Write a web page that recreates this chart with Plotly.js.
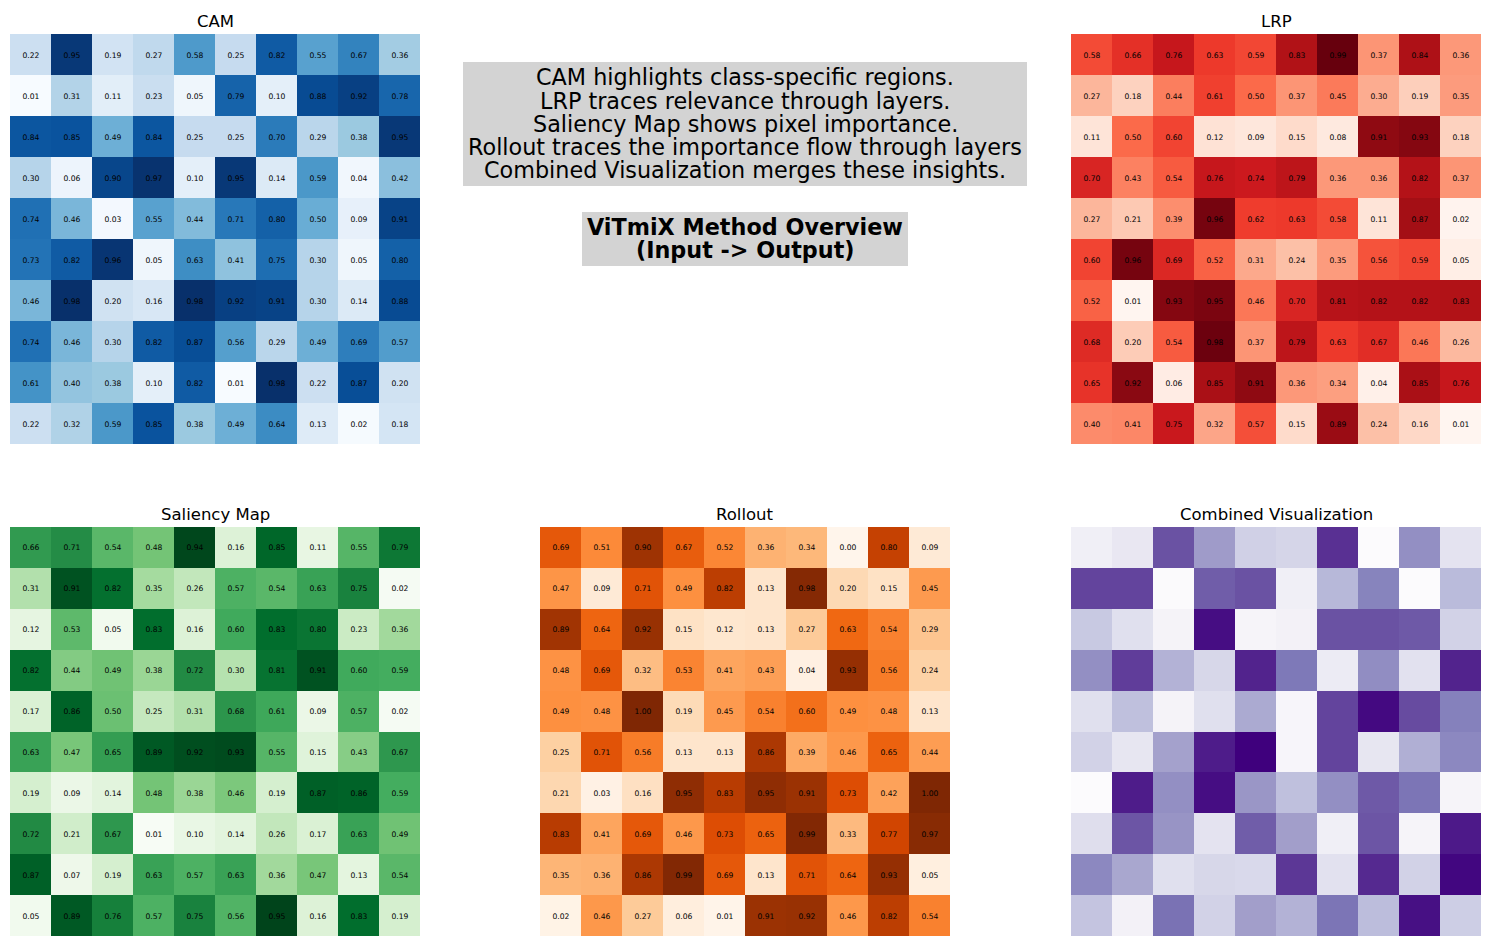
<!DOCTYPE html>
<html>
<head>
<meta charset="utf-8">
<script src="https://cdn.plot.ly/plotly-3.0.1.min.js"></script>
<style>html,body{margin:0;padding:0;background:#fff;}#chart{width:1489px;height:946px;}</style>
</head>
<body>
<div id="chart"></div>
<script>
const titles = ["CAM", "LRP", "Saliency Map", "Rollout", "Combined Visualization"];

const camValues = [
  [0.22,0.95,0.19,0.27,0.58,0.25,0.82,0.55,0.67,0.36],
  [0.01,0.31,0.11,0.23,0.05,0.79,0.10,0.88,0.92,0.78],
  [0.84,0.85,0.49,0.84,0.25,0.25,0.70,0.29,0.38,0.95],
  [0.30,0.06,0.90,0.97,0.10,0.95,0.14,0.59,0.04,0.42],
  [0.74,0.46,0.03,0.55,0.44,0.71,0.80,0.50,0.09,0.91],
  [0.73,0.82,0.96,0.05,0.63,0.41,0.75,0.30,0.05,0.80],
  [0.46,0.98,0.20,0.16,0.98,0.92,0.91,0.30,0.14,0.88],
  [0.74,0.46,0.30,0.82,0.87,0.56,0.29,0.49,0.69,0.57],
  [0.61,0.40,0.38,0.10,0.82,0.01,0.98,0.22,0.87,0.20],
  [0.22,0.32,0.59,0.85,0.38,0.49,0.64,0.13,0.02,0.18]
];

const lrpValues = [
  [0.58,0.66,0.76,0.63,0.59,0.83,0.99,0.37,0.84,0.36],
  [0.27,0.18,0.44,0.61,0.50,0.37,0.45,0.30,0.19,0.35],
  [0.11,0.50,0.60,0.12,0.09,0.15,0.08,0.91,0.93,0.18],
  [0.70,0.43,0.54,0.76,0.74,0.79,0.36,0.36,0.82,0.37],
  [0.27,0.21,0.39,0.96,0.62,0.63,0.58,0.11,0.87,0.02],
  [0.60,0.96,0.69,0.52,0.31,0.24,0.35,0.56,0.59,0.05],
  [0.52,0.01,0.93,0.95,0.46,0.70,0.81,0.82,0.82,0.83],
  [0.68,0.20,0.54,0.98,0.37,0.79,0.63,0.67,0.46,0.26],
  [0.65,0.92,0.06,0.85,0.91,0.36,0.34,0.04,0.85,0.76],
  [0.40,0.41,0.75,0.32,0.57,0.15,0.89,0.24,0.16,0.01]
];

const saliencyValues = [
  [0.66,0.71,0.54,0.48,0.94,0.16,0.85,0.11,0.55,0.79],
  [0.31,0.91,0.82,0.35,0.26,0.57,0.54,0.63,0.75,0.02],
  [0.12,0.53,0.05,0.83,0.16,0.60,0.83,0.80,0.23,0.36],
  [0.82,0.44,0.49,0.38,0.72,0.30,0.81,0.91,0.60,0.59],
  [0.17,0.86,0.50,0.25,0.31,0.68,0.61,0.09,0.57,0.02],
  [0.63,0.47,0.65,0.89,0.92,0.93,0.55,0.15,0.43,0.67],
  [0.19,0.09,0.14,0.48,0.38,0.46,0.19,0.87,0.86,0.59],
  [0.72,0.21,0.67,0.01,0.10,0.14,0.26,0.17,0.63,0.49],
  [0.87,0.07,0.19,0.63,0.57,0.63,0.36,0.47,0.13,0.54],
  [0.05,0.89,0.76,0.57,0.75,0.56,0.95,0.16,0.83,0.19]
];

const rolloutValues = [
  [0.69,0.51,0.90,0.67,0.52,0.36,0.34,0.00,0.80,0.09],
  [0.47,0.09,0.71,0.49,0.82,0.13,0.98,0.20,0.15,0.45],
  [0.89,0.64,0.92,0.15,0.12,0.13,0.27,0.63,0.54,0.29],
  [0.48,0.69,0.32,0.53,0.41,0.43,0.04,0.93,0.56,0.24],
  [0.49,0.48,1.00,0.19,0.45,0.54,0.60,0.49,0.48,0.13],
  [0.25,0.71,0.56,0.13,0.13,0.86,0.39,0.46,0.65,0.44],
  [0.21,0.03,0.16,0.95,0.83,0.95,0.91,0.73,0.42,1.00],
  [0.83,0.41,0.69,0.46,0.73,0.65,0.99,0.33,0.77,0.97],
  [0.35,0.36,0.86,0.99,0.69,0.13,0.71,0.64,0.93,0.05],
  [0.02,0.46,0.27,0.06,0.01,0.91,0.92,0.46,0.82,0.54]
];

const combinedValues = [
  [0.12,0.17,0.75,0.50,0.30,0.28,0.85,0.01,0.55,0.20],
  [0.79,0.79,0.02,0.72,0.75,0.12,0.40,0.60,0.01,0.39],
  [0.33,0.22,0.08,0.96,0.07,0.10,0.75,0.75,0.73,0.29],
  [0.55,0.81,0.42,0.27,0.89,0.64,0.15,0.56,0.21,0.89],
  [0.22,0.37,0.08,0.22,0.45,0.06,0.79,0.97,0.77,0.61],
  [0.29,0.18,0.48,0.91,1.00,0.06,0.79,0.18,0.43,0.58],
  [0.01,0.91,0.55,0.96,0.52,0.37,0.55,0.73,0.65,0.07],
  [0.23,0.74,0.53,0.20,0.72,0.49,0.12,0.74,0.07,0.92],
  [0.58,0.46,0.22,0.27,0.26,0.83,0.21,0.87,0.29,0.98],
  [0.35,0.10,0.66,0.29,0.49,0.42,0.65,0.38,0.95,0.31]
];

const infoLines = [
  "CAM highlights class-specific regions.",
  "LRP traces relevance through layers.",
  "Saliency Map shows pixel importance.",
  "Rollout traces the importance flow through layers",
  "Combined Visualization merges these insights."
];
const headerLines = ["ViTmiX Method Overview", "(Input -> Output)"];

function scale(cols){ return cols.map((c,i)=>[i/(cols.length-1), c]); }
const Blues = scale(["#f7fbff","#deebf7","#c6dbef","#9ecae1","#6baed6","#4292c6","#2171b5","#08519c","#08306b"]);
const Reds = scale(["#fff5f0","#fee0d2","#fcbba1","#fc9272","#fb6a4a","#ef3b2c","#cb181d","#a50f15","#67000d"]);
const Greens = scale(["#f7fcf5","#e5f5e0","#c7e9c0","#a1d99b","#74c476","#41ab5d","#238b45","#006d2c","#00441b"]);
const Oranges = scale(["#fff5eb","#fee6ce","#fdd0a2","#fdae6b","#fd8d3c","#f16913","#d94801","#a63603","#7f2704"]);
const Purples = scale(["#fcfbfd","#efedf5","#dadaeb","#bcbddc","#9e9ac8","#807dba","#6a51a3","#54278f","#3f007d"]);

const W = 1489, H = 946;
const px = v => v / W;
const py = v => 1 - v / H;

// panel boxes in pixels [left, right, top, bottom]
const panels = [
  {z: camValues, cs: Blues, box: [10, 420, 34, 444], text: true},
  {z: lrpValues, cs: Reds, box: [1071, 1481, 34, 444], text: true},
  {z: saliencyValues, cs: Greens, box: [10, 420, 527, 936], text: true},
  {z: rolloutValues, cs: Oranges, box: [540, 950, 527, 936], text: true},
  {z: combinedValues, cs: Purples, box: [1071, 1481, 527, 936], text: false}
];

const traces = [];
const layout = {
  width: W, height: H,
  margin: {l:0, r:0, t:0, b:0},
  paper_bgcolor: "#ffffff",
  plot_bgcolor: "#ffffff",
  font: {family: "DejaVu Sans", color: "#000000"},
  showlegend: false,
  annotations: [],
  shapes: []
};

panels.forEach((p, i) => {
  const n = i + 1;
  const xa = n === 1 ? "x" : "x" + n;
  const ya = n === 1 ? "y" : "y" + n;
  const t = {
    type: "heatmap",
    z: p.z,
    colorscale: p.cs,
    showscale: false,
    xaxis: xa, yaxis: ya,
    xgap: 0, ygap: 0,
    hoverinfo: "z"
  };
  if (p.text) {
    t.texttemplate = "%{z:.2f}";
    t.textfont = {family: "DejaVu Sans", size: 7.6, color: "#000000"};
  }
  traces.push(t);
  const axCommon = {showgrid:false, zeroline:false, showticklabels:false, ticks:"", showline:false};
  layout["xaxis" + (n===1?"":n)] = Object.assign({domain:[px(p.box[0]), px(p.box[1])], anchor: ya, range:[-0.5, 9.5]}, axCommon);
  layout["yaxis" + (n===1?"":n)] = Object.assign({domain:[py(p.box[3]), py(p.box[2])], anchor: xa, range:[9.5, -0.5]}, axCommon);
  layout.annotations.push({
    xref:"paper", yref:"paper",
    x: px((p.box[0]+p.box[1])/2), y: py(p.box[2]-13),
    xanchor:"center", yanchor:"middle",
    text: titles[i], showarrow:false,
    font:{family:"DejaVu Sans", size:16.5, color:"#000000"}
  });
});

// info text box
layout.shapes.push({type:"rect", xref:"paper", yref:"paper", x0:px(463), x1:px(1027), y0:py(186), y1:py(62), fillcolor:"#d3d3d3", line:{width:0}, layer:"below"});
layout.shapes.push({type:"rect", xref:"paper", yref:"paper", x0:px(582), x1:px(908), y0:py(266), y1:py(212), fillcolor:"#d3d3d3", line:{width:0}, layer:"below"});
const infoY = [77, 100.5, 124, 147, 170];
infoLines.forEach((s, k) => {
  layout.annotations.push({xref:"paper", yref:"paper", x:px(745), y:py(infoY[k]), xanchor:"center", yanchor:"middle",
    text:s, showarrow:false, font:{family:"DejaVu Sans", size:22.3, color:"#000000"}});
});
const headY = [227, 250];
headerLines.forEach((s, k) => {
  layout.annotations.push({xref:"paper", yref:"paper", x:px(745), y:py(headY[k]), xanchor:"center", yanchor:"middle",
    text:"<b>"+s+"</b>", showarrow:false, font:{family:"DejaVu Sans", size:22.3, color:"#000000"}});
});

Plotly.newPlot("chart", traces, layout, {displayModeBar:false, staticPlot:true});
</script>
</body>
</html>
